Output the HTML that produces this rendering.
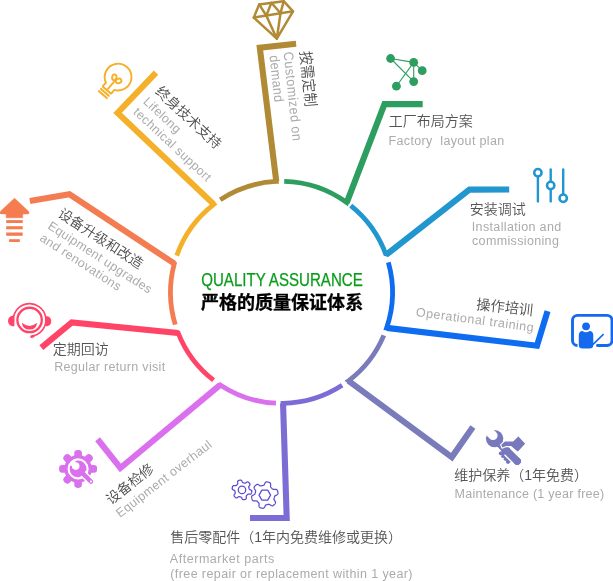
<!DOCTYPE html>
<html lang="zh-CN">
<head>
<meta charset="utf-8">
<title>严格的质量保证体系</title>
<style>
html,body{margin:0;padding:0;background:#fff;}
body{width:613px;height:581px;overflow:hidden;position:relative;font-family:"Liberation Sans","Noto Sans CJK SC",sans-serif;}
svg{position:absolute;left:0;top:0;display:block;will-change:transform;}
.zh{font-family:"Liberation Sans","Noto Sans CJK SC",sans-serif;font-size:14px;fill:#545454;font-weight:350;}
.r{font-weight:350;fill:#4d4d4d;}
.en{font-family:"Liberation Sans","Noto Sans CJK SC",sans-serif;font-size:12.5px;fill:#ababab;letter-spacing:0.35px;}
</style>
</head>
<body>
<svg width="613" height="581" viewBox="0 0 613 581">
<g id="ring">
<path d="M220.23 199.79A111.0 111.0 0 0 1 276.27 181.47L275.66 176.51" stroke="#b08a34" stroke-width="4.8" fill="none" stroke-linejoin="miter" stroke-miterlimit="10"/>
<path d="M276.27 181.47L259.80 47.70L296.10 43.75" stroke="#b08a34" stroke-width="6.1" fill="none" stroke-linejoin="miter" stroke-miterlimit="10"/>
<path d="M284.21 181.38A111.0 111.0 0 0 1 346.74 202.55L348.53 197.88" stroke="#2d9d60" stroke-width="4.8" fill="none" stroke-linejoin="miter" stroke-miterlimit="10"/>
<path d="M346.74 202.55L384.45 104.10L422.70 104.10" stroke="#2d9d60" stroke-width="6.1" fill="none" stroke-linejoin="miter" stroke-miterlimit="10"/>
<path d="M350.75 205.60A111.0 111.0 0 0 1 386.00 254.93L389.94 251.85" stroke="#2196cf" stroke-width="4.8" fill="none" stroke-linejoin="bevel" stroke-miterlimit="10"/>
<path d="M386.00 254.93L469.45 189.60L509.20 189.55" stroke="#2196cf" stroke-width="6.1" fill="none" stroke-linejoin="miter" stroke-miterlimit="10"/>
<path d="M388.36 262.31A111.0 111.0 0 0 1 386.66 327.88L391.62 328.47" stroke="#0d6cf0" stroke-width="4.8" fill="none" stroke-linejoin="miter" stroke-miterlimit="10"/>
<path d="M386.66 327.88L537.00 345.70L547.55 311.05" stroke="#0d6cf0" stroke-width="6.1" fill="none" stroke-linejoin="miter" stroke-miterlimit="10"/>
<path d="M383.83 335.36A111.0 111.0 0 0 1 348.52 380.84L352.54 383.80" stroke="#797bba" stroke-width="4.8" fill="none" stroke-linejoin="miter" stroke-miterlimit="10"/>
<path d="M348.52 380.84L451.85 457.10L472.90 427.10" stroke="#797bba" stroke-width="6.1" fill="none" stroke-linejoin="miter" stroke-miterlimit="10"/>
<path d="M342.12 385.34A111.0 111.0 0 0 1 283.05 403.34L283.21 408.34" stroke="#7c6dd6" stroke-width="4.8" fill="none" stroke-linejoin="miter" stroke-miterlimit="10"/>
<path d="M283.05 403.34L286.70 518.05L250.00 518.05" stroke="#7c6dd6" stroke-width="6.1" fill="none" stroke-linejoin="miter" stroke-miterlimit="10"/>
<path d="M275.96 403.21A111.0 111.0 0 0 1 220.19 384.88L216.34 388.08" stroke="#da70ed" stroke-width="4.8" fill="none" stroke-linejoin="miter" stroke-miterlimit="10"/>
<path d="M220.19 384.88L120.35 468.00L97.60 439.25" stroke="#da70ed" stroke-width="6.1" fill="none" stroke-linejoin="miter" stroke-miterlimit="10"/>
<path d="M213.57 380.14A111.0 111.0 0 0 1 178.22 333.03L173.25 332.53" stroke="#ff4468" stroke-width="4.8" fill="none" stroke-linejoin="miter" stroke-miterlimit="10"/>
<path d="M178.22 333.03L71.80 322.35L41.35 347.70" stroke="#ff4468" stroke-width="6.1" fill="none" stroke-linejoin="miter" stroke-miterlimit="10"/>
<path d="M175.29 324.62A111.0 111.0 0 0 1 174.30 263.56L170.12 260.81" stroke="#f47c52" stroke-width="4.8" fill="none" stroke-linejoin="miter" stroke-miterlimit="10"/>
<path d="M174.30 263.56L69.40 194.30L29.85 201.00" stroke="#f47c52" stroke-width="6.1" fill="none" stroke-linejoin="miter" stroke-miterlimit="10"/>
<path d="M176.74 255.66A111.0 111.0 0 0 1 213.85 204.35L210.22 200.90" stroke="#f5b02a" stroke-width="4.8" fill="none" stroke-linejoin="miter" stroke-miterlimit="10"/>
<path d="M213.85 204.35L117.60 113.00L156.00 72.60" stroke="#f5b02a" stroke-width="6.1" fill="none" stroke-linejoin="miter" stroke-miterlimit="10"/>
</g>
<g id="icons">
<g fill="none" stroke="#b08a34" stroke-width="2.5" stroke-linejoin="round" stroke-linecap="round"><path d="M259.2 4.4L283.7 1.2L293.0 11.3L276.8 38.7L253.8 17.6Z"/><path d="M253.8 17.6L293.0 11.3"/><path d="M259.2 4.4L266.3 15.6L271.4 2.8L280.5 13.3L283.7 1.2"/><path d="M266.3 15.6L276.8 38.7L280.5 13.3"/></g>
<g stroke="#2d9d60" stroke-width="1.1" fill="#2d9d60"><line x1="390.6" y1="58.5" x2="413.7" y2="62.4"/><line x1="390.6" y1="58.5" x2="413.7" y2="81.6"/><line x1="413.7" y1="62.4" x2="396.4" y2="86.2"/><line x1="413.7" y1="62.4" x2="413.7" y2="81.6"/><line x1="413.7" y1="62.4" x2="422.2" y2="70.7"/><circle cx="390.6" cy="58.5" r="4.4" stroke="none"/><circle cx="413.7" cy="62.4" r="4.4" stroke="none"/><circle cx="422.2" cy="70.7" r="4.4" stroke="none"/><circle cx="413.7" cy="81.6" r="4.4" stroke="none"/><circle cx="396.4" cy="86.2" r="4.4" stroke="none"/></g>
<g stroke="#2196cf" stroke-width="2.4" fill="#fff" stroke-linecap="round"><line x1="537.9" y1="169.4" x2="537.9" y2="201.4"/><line x1="550.7" y1="169.4" x2="550.7" y2="201.4"/><line x1="563.2" y1="169.4" x2="563.2" y2="201.4"/><circle cx="537.9" cy="172.8" r="3.7" stroke-width="2.5"/><circle cx="550.7" cy="185.5" r="3.7" stroke-width="2.5"/><circle cx="563.2" cy="198.2" r="3.7" stroke-width="2.5"/></g>
<g fill="#1569ee" stroke="none"><path d="M577 345.5H577.5A5 5 0 0 1 572.5 340.5V320.4A5 5 0 0 1 577.5 315.4H607A5 5 0 0 1 612 320.4V340.5A5 5 0 0 1 607 345.5H597.5" fill="none" stroke="#1569ee" stroke-width="2.9" stroke-linecap="round"/><circle cx="586.05" cy="326.3" r="3.9"/><path d="M578.8 335.5Q578.8 331 582.5 331Q586 333.6 589.6 331Q593.3 331 593.3 335.5V345Q593.3 348.6 589.5 348.6H582.6Q578.8 348.6 578.8 345Z"/><line x1="592.8" y1="344.6" x2="603.6" y2="334.1" stroke="#1569ee" stroke-width="1.6"/></g>
<g fill="#7879bc" stroke="none"><line x1="494.6" y1="438.6" x2="517.2" y2="461.2" stroke="#7879bc" stroke-width="7.4" stroke-linecap="round"/><circle cx="494.6" cy="438.6" r="8.7"/><path d="M483.5 432.5L490 426L496.2 432.2A4 4 0 1 1 489.8 438.8Z" fill="#fff"/><path d="M500.2 452.6L506.6 448.4L513 459.4L508.4 463.6Z" stroke="#7879bc" stroke-width="1" stroke-linejoin="round"/><g fill="#7879bc"><circle cx="500.6" cy="453.4" r="1.8"/><circle cx="502.9" cy="456.2" r="1.8"/><circle cx="505.3" cy="459.0" r="1.8"/><circle cx="507.7" cy="461.9" r="1.8"/></g><line x1="507.6" y1="451.6" x2="516.4" y2="460.4" stroke="#fff" stroke-width="10.2" stroke-linecap="butt"/><line x1="503.0" y1="447.0" x2="517.2" y2="461.2" stroke="#7879bc" stroke-width="7.4" stroke-linecap="round"/><path d="M518.4 435.7L525.9 443.7L517.9 452.3L511.0 446.6L506.3 446.6L502.1 448.3L500.6 444.7L504.8 440.9L513.0 440.9Z" stroke="#fff" stroke-width="1.1" stroke-linejoin="round"/></g>
<g fill="none" stroke="#5b4bd0" stroke-width="1.25"><path d="M250.60 489.90L251.07 490.14L251.44 490.39L251.66 490.66L251.78 490.93L251.83 491.19L251.83 491.46L251.81 491.72L251.77 491.98L251.72 492.23L251.66 492.49L251.59 492.74L251.50 492.99L251.41 493.23L251.29 493.47L251.16 493.69L250.98 493.90L250.75 494.07L250.42 494.19L249.98 494.23L249.45 494.20L248.93 494.15L248.50 494.12L248.19 494.15L247.96 494.23L247.78 494.34L247.63 494.46L247.49 494.59L247.36 494.72L247.22 494.86L247.09 494.99L246.96 495.12L246.82 495.26L246.69 495.39L246.56 495.53L246.44 495.68L246.33 495.86L246.25 496.09L246.22 496.40L246.25 496.83L246.30 497.35L246.33 497.88L246.29 498.32L246.17 498.65L246.00 498.88L245.79 499.06L245.57 499.19L245.33 499.31L245.09 499.40L244.84 499.49L244.59 499.56L244.33 499.62L244.08 499.67L243.82 499.71L243.56 499.73L243.29 499.73L243.03 499.68L242.76 499.56L242.49 499.34L242.24 498.97L242.00 498.50L241.79 498.02L241.59 497.64L241.41 497.38L241.23 497.23L241.05 497.13L240.87 497.06L240.68 497.00L240.50 496.95L240.32 496.90L240.14 496.85L239.95 496.81L239.77 496.76L239.59 496.71L239.40 496.66L239.21 496.63L239.00 496.63L238.77 496.68L238.48 496.81L238.12 497.04L237.70 497.35L237.26 497.64L236.85 497.82L236.51 497.89L236.22 497.86L235.97 497.76L235.73 497.64L235.52 497.49L235.31 497.33L235.12 497.15L234.93 496.97L234.75 496.78L234.57 496.59L234.41 496.38L234.26 496.17L234.14 495.93L234.04 495.68L234.01 495.39L234.08 495.05L234.26 494.64L234.55 494.20L234.86 493.78L235.09 493.42L235.22 493.13L235.27 492.90L235.27 492.69L235.24 492.50L235.19 492.31L235.14 492.13L235.09 491.95L235.05 491.76L235.00 491.58L234.95 491.40L234.90 491.22L234.84 491.03L234.77 490.85L234.67 490.67L234.52 490.49L234.26 490.31L233.88 490.11L233.40 489.90L232.93 489.66L232.56 489.41L232.34 489.14L232.22 488.87L232.17 488.61L232.17 488.34L232.19 488.08L232.23 487.82L232.28 487.57L232.34 487.31L232.41 487.06L232.50 486.81L232.59 486.57L232.71 486.33L232.84 486.11L233.02 485.90L233.25 485.73L233.58 485.61L234.02 485.57L234.55 485.60L235.07 485.65L235.50 485.68L235.81 485.65L236.04 485.57L236.22 485.46L236.37 485.34L236.51 485.21L236.64 485.08L236.78 484.94L236.91 484.81L237.04 484.68L237.18 484.54L237.31 484.41L237.44 484.27L237.56 484.12L237.67 483.94L237.75 483.71L237.78 483.40L237.75 482.97L237.70 482.45L237.67 481.92L237.71 481.48L237.83 481.15L238.00 480.92L238.21 480.74L238.43 480.61L238.67 480.49L238.91 480.40L239.16 480.31L239.41 480.24L239.67 480.18L239.92 480.13L240.18 480.09L240.44 480.07L240.71 480.07L240.97 480.12L241.24 480.24L241.51 480.46L241.76 480.83L242.00 481.30L242.21 481.78L242.41 482.16L242.59 482.42L242.77 482.57L242.95 482.67L243.13 482.74L243.32 482.80L243.50 482.85L243.68 482.90L243.86 482.95L244.05 482.99L244.23 483.04L244.41 483.09L244.60 483.14L244.79 483.17L245.00 483.17L245.23 483.12L245.52 482.99L245.88 482.76L246.30 482.45L246.74 482.16L247.15 481.98L247.49 481.91L247.78 481.94L248.03 482.04L248.27 482.16L248.48 482.31L248.69 482.47L248.88 482.65L249.07 482.83L249.25 483.02L249.43 483.21L249.59 483.42L249.74 483.63L249.86 483.87L249.96 484.12L249.99 484.41L249.92 484.75L249.74 485.16L249.45 485.60L249.14 486.02L248.91 486.38L248.78 486.67L248.73 486.90L248.73 487.11L248.76 487.30L248.81 487.49L248.86 487.67L248.91 487.85L248.95 488.04L249.00 488.22L249.05 488.40L249.10 488.58L249.16 488.77L249.23 488.95L249.33 489.13L249.48 489.31L249.74 489.49L250.12 489.69Z"/><circle cx="242" cy="489.9" r="3.7"/><path d="M276.40 495.10L275.79 495.39L275.29 495.65L274.96 495.90L274.76 496.15L274.63 496.39L274.54 496.64L274.46 496.89L274.40 497.14L274.33 497.39L274.27 497.64L274.20 497.88L274.13 498.13L274.06 498.38L274.00 498.63L273.96 498.89L273.95 499.17L274.00 499.49L274.16 499.87L274.46 500.34L274.85 500.90L275.21 501.48L275.44 502.01L275.52 502.47L275.47 502.85L275.34 503.19L275.17 503.50L274.97 503.79L274.75 504.06L274.52 504.32L274.28 504.58L274.02 504.82L273.76 505.05L273.49 505.27L273.20 505.47L272.89 505.64L272.55 505.77L272.17 505.82L271.71 505.74L271.18 505.51L270.60 505.15L270.04 504.76L269.57 504.46L269.19 504.30L268.87 504.25L268.59 504.26L268.33 504.30L268.08 504.36L267.83 504.43L267.58 504.50L267.34 504.57L267.09 504.63L266.84 504.70L266.59 504.76L266.34 504.84L266.09 504.93L265.85 505.06L265.60 505.26L265.35 505.59L265.09 506.09L264.80 506.70L264.48 507.31L264.14 507.77L263.78 508.06L263.42 508.21L263.07 508.27L262.71 508.28L262.36 508.25L262.02 508.20L261.67 508.13L261.33 508.04L260.99 507.95L260.66 507.83L260.34 507.71L260.02 507.56L259.72 507.38L259.44 507.15L259.20 506.84L259.04 506.41L258.97 505.83L259.00 505.15L259.06 504.47L259.08 503.91L259.02 503.50L258.91 503.20L258.77 502.96L258.60 502.76L258.42 502.57L258.24 502.39L258.05 502.21L257.87 502.03L257.69 501.85L257.51 501.66L257.33 501.48L257.14 501.30L256.94 501.13L256.70 500.99L256.40 500.88L255.99 500.82L255.43 500.84L254.75 500.90L254.07 500.93L253.49 500.86L253.06 500.70L252.75 500.46L252.52 500.18L252.34 499.88L252.19 499.56L252.07 499.24L251.95 498.91L251.86 498.57L251.77 498.23L251.70 497.88L251.65 497.54L251.62 497.19L251.63 496.83L251.69 496.48L251.84 496.12L252.13 495.76L252.59 495.42L253.20 495.10L253.81 494.81L254.31 494.55L254.64 494.30L254.84 494.05L254.97 493.81L255.06 493.56L255.14 493.31L255.20 493.06L255.27 492.81L255.33 492.56L255.40 492.32L255.47 492.07L255.54 491.82L255.60 491.57L255.64 491.31L255.65 491.03L255.60 490.71L255.44 490.33L255.14 489.86L254.75 489.30L254.39 488.72L254.16 488.19L254.08 487.73L254.13 487.35L254.26 487.01L254.43 486.70L254.63 486.41L254.85 486.14L255.08 485.88L255.32 485.62L255.58 485.38L255.84 485.15L256.11 484.93L256.40 484.73L256.71 484.56L257.05 484.43L257.43 484.38L257.89 484.46L258.42 484.69L259.00 485.05L259.56 485.44L260.03 485.74L260.41 485.90L260.73 485.95L261.01 485.94L261.27 485.90L261.52 485.84L261.77 485.77L262.02 485.70L262.26 485.63L262.51 485.57L262.76 485.50L263.01 485.44L263.26 485.36L263.51 485.27L263.75 485.14L264.00 484.94L264.25 484.61L264.51 484.11L264.80 483.50L265.12 482.89L265.46 482.43L265.82 482.14L266.18 481.99L266.53 481.93L266.89 481.92L267.24 481.95L267.58 482.00L267.93 482.07L268.27 482.16L268.61 482.25L268.94 482.37L269.26 482.49L269.58 482.64L269.88 482.82L270.16 483.05L270.40 483.36L270.56 483.79L270.63 484.37L270.60 485.05L270.54 485.73L270.52 486.29L270.58 486.70L270.69 487.00L270.83 487.24L271.00 487.44L271.18 487.63L271.36 487.81L271.55 487.99L271.73 488.17L271.91 488.35L272.09 488.54L272.27 488.72L272.46 488.90L272.66 489.07L272.90 489.21L273.20 489.32L273.61 489.38L274.17 489.36L274.85 489.30L275.53 489.27L276.11 489.34L276.54 489.50L276.85 489.74L277.08 490.02L277.26 490.32L277.41 490.64L277.53 490.96L277.65 491.29L277.74 491.63L277.83 491.97L277.90 492.32L277.95 492.66L277.98 493.01L277.97 493.37L277.91 493.72L277.76 494.08L277.47 494.44L277.01 494.78Z"/><path d="M270.60 495.10L267.70 500.12L261.90 500.12L259.00 495.10L261.90 490.08L267.70 490.08Z" stroke-linejoin="round"/></g>
<g fill="#da70ed" stroke="none"><circle cx="78.1" cy="468.9" r="13.8"/><rect x="74.3" y="449.9" width="7.6" height="10" rx="3.3" transform="rotate(0 78.1 468.9)"/><rect x="74.3" y="449.9" width="7.6" height="10" rx="3.3" transform="rotate(45 78.1 468.9)"/><rect x="74.3" y="449.9" width="7.6" height="10" rx="3.3" transform="rotate(90 78.1 468.9)"/><rect x="74.3" y="449.9" width="7.6" height="10" rx="3.3" transform="rotate(180 78.1 468.9)"/><rect x="74.3" y="449.9" width="7.6" height="10" rx="3.3" transform="rotate(225 78.1 468.9)"/><rect x="74.3" y="449.9" width="7.6" height="10" rx="3.3" transform="rotate(270 78.1 468.9)"/><rect x="74.3" y="449.9" width="7.6" height="10" rx="3.3" transform="rotate(315 78.1 468.9)"/><circle cx="78.1" cy="468.9" r="9.5" fill="none" stroke="#fff" stroke-width="2.1"/><line x1="78.1" y1="468.9" x2="91" y2="481.6" stroke="#fff" stroke-width="7.6" stroke-linecap="round"/><line x1="78.1" y1="468.9" x2="91" y2="481.6" stroke="#da70ed" stroke-width="4.4" stroke-linecap="round"/><circle cx="78.1" cy="468.9" r="7.6"/><circle cx="75.69999999999999" cy="466.09999999999997" r="3.8" fill="#fff"/><path d="M75.89999999999999 466.29999999999995L68.6 465.4L75.1 458.9Z" fill="#fff"/><circle cx="90.9" cy="481.6" r="1.1" fill="#fff"/></g>
<g fill="#ff4468" stroke="none"><circle cx="29.6" cy="319.95" r="12.2" fill="none" stroke="#ff4468" stroke-width="2.3"/><path d="M13.46 322.22A16.3 16.3 0 1 1 32.99 335.89" fill="none" stroke="#ff4468" stroke-width="1.6"/><path d="M14.4 315.6C9 315.6 8.1 319 8.1 321S9 326.3 14.4 326.3Z"/><path d="M45.4 316C50.4 316 51.2 319.4 51.2 321.2S50.4 326.3 45.4 326.3Z"/><ellipse cx="32.4" cy="336.4" rx="2.3" ry="1.4" transform="rotate(-12 32.4 336.4)"/><path d="M21.9 322.8Q29.6 329 37.1 322.8Q36.5 329.6 29.6 329.6Q22.6 329.6 21.9 322.8Z"/></g>
<g fill="#f47c50" stroke="none"><path d="M14.5 198.2L28.4 211.3Q30 213.9 27.6 213.9H22.7V217.8H6.2V213.9H1.3Q-1 213.9 0.6 211.3Z" stroke="#f47c50" stroke-width="0.6" stroke-linejoin="round"/><rect x="6.2" y="220.1" width="16.5" height="2.9"/><rect x="6.2" y="226.2" width="16.5" height="3.1"/><rect x="6.2" y="232.5" width="16.5" height="3.3"/><rect x="9.1" y="239.2" width="10.7" height="2.8"/></g>
<g transform="translate(118.1 77.1) rotate(41)" fill="none" stroke="#f5b02a" stroke-width="1.9" stroke-linecap="round" stroke-linejoin="round"><path d="M-5.6 16.6V13.74Q-5.6 12.24 -5.45 12.24A13.4 13.4 0 1 1 5.45 12.24Q5.6 12.24 5.6 13.74V16.6"/><line x1="-5.2" y1="17.2" x2="5.2" y2="17.2" stroke-width="2.1"/><line x1="-5.2" y1="20.2" x2="5.2" y2="20.2" stroke-width="2.1"/><line x1="-5.2" y1="23.2" x2="5.2" y2="23.2" stroke-width="2.1"/><line x1="0" y1="15.5" x2="0" y2="5"/><ellipse cx="-2.7" cy="2.6" rx="2.2" ry="2.9" transform="rotate(-30 -2.7 2.6)"/><ellipse cx="2.9" cy="2.6" rx="2.2" ry="2.9" transform="rotate(30 2.9 2.6)"/></g>
</g>
<g id="labels">
<text x="201.2" y="285.7" style="font-size:18px;fill:#0a9c1c;stroke:#0a9c1c;stroke-width:0.25px;" textLength="161.6" lengthAdjust="spacingAndGlyphs">QUALITY ASSURANCE</text>
<text x="200.9" y="309" style="font-size:18.05px;font-weight:bold;fill:#000;stroke:#000;stroke-width:0.3px;">严格的质量保证体系</text>
<text transform="translate(300.0 51.5) rotate(84.3) scale(1 1.08)" class="zh r">按需定制</text>
<text transform="translate(283.5 52.3) rotate(84.0) scale(1 1.1)" class="en" style="letter-spacing:0.5px">Customized on</text>
<text transform="translate(269.6 55.8) rotate(84.0) scale(1 1.1)" class="en">demand</text>
<text transform="translate(154.5 92.5) rotate(43)" class="zh r">终身技术支持</text>
<text transform="translate(142.47 102.47) rotate(43)" class="en">Lifelong</text>
<text transform="translate(132.58 113.08) rotate(43)" class="en" style="letter-spacing:0.42px">technical support</text>
<text transform="translate(57 216) rotate(33)" class="zh r">设备升级和改造</text>
<text transform="translate(46.88 227.91) rotate(33)" class="en">Equipment upgrades</text>
<text transform="translate(38.98 240.07) rotate(33)" class="en">and renovations</text>
<text transform="translate(52.7 353.8)" class="zh">定期回访</text>
<text transform="translate(54.2 371.2)" class="en" style="letter-spacing:0.32px">Regular return visit</text>
<text transform="translate(111 505.3) rotate(-38.5)" class="zh r">设备检修</text>
<text transform="translate(120.1 518.0) rotate(-37.8)" class="en">Equipment overhaul</text>
<text transform="translate(170.3 542)" class="zh">售后零配件（1年内免费维修或更换）</text>
<text transform="translate(169.8 562.8)" class="en" style="letter-spacing:0.54px">Aftermarket parts</text>
<text transform="translate(170.3 578.0)" class="en" style="letter-spacing:0.4px">(free repair or replacement within 1 year)</text>
<text transform="translate(454.2 480.3)" class="zh">维护保养（1年免费）</text>
<text transform="translate(454.6 497.5)" class="en" style="letter-spacing:0.27px">Maintenance (1 year free)</text>
<text transform="translate(532.5 315.5) rotate(6.4) scale(1.02 1.04)" class="zh r" text-anchor="end">操作培训</text>
<text transform="translate(533.6 331.6) rotate(7.5)" class="en" text-anchor="end" style="letter-spacing:0.5px">Operational training</text>
<text transform="translate(469.8 214)" class="zh">安装调试</text>
<text transform="translate(471.8 230.6)" class="en">Installation and</text>
<text transform="translate(472.0 245.0)" class="en">commissioning</text>
<text transform="translate(388.7 126)" class="zh">工厂布局方案</text>
<text transform="translate(388.5 145)" class="en" xml:space="preserve">Factory  layout plan</text>
</g>
</svg>
</body>
</html>
